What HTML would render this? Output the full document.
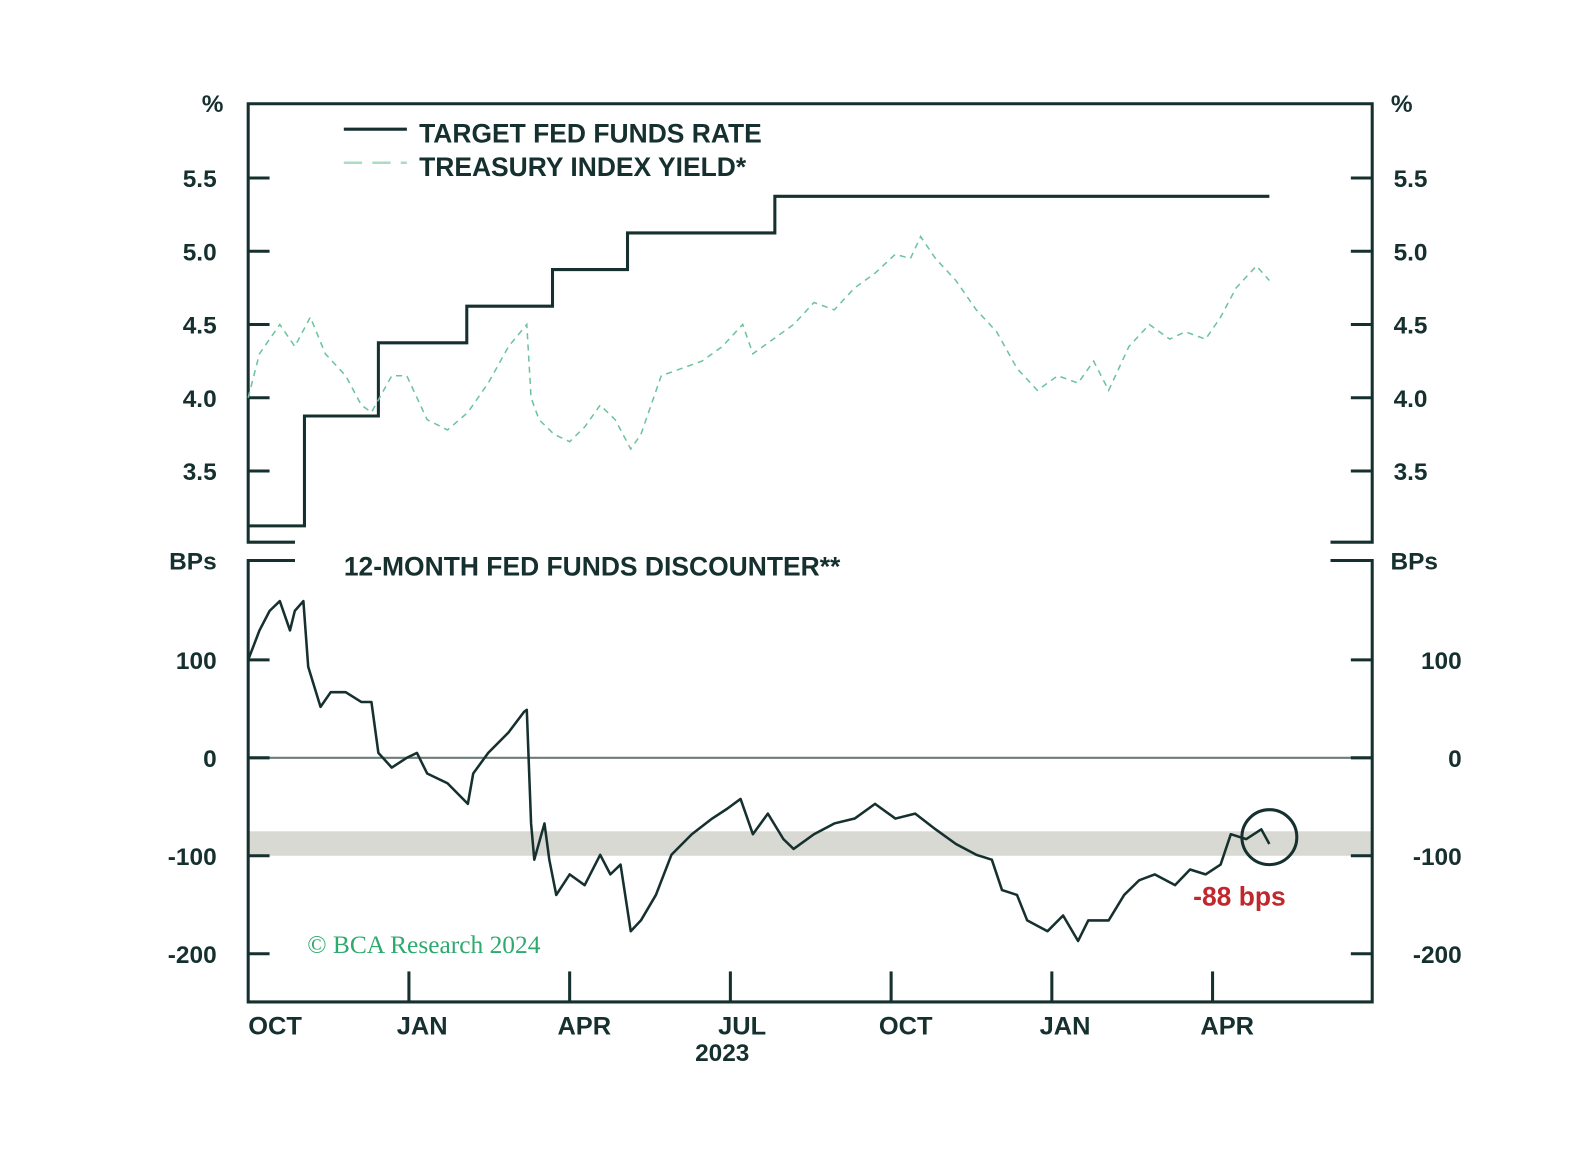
<!DOCTYPE html>
<html><head><meta charset="utf-8"><style>
body{margin:0;background:#fff;}
svg text{font-family:"Liberation Sans",sans-serif;fill:#15302e;font-weight:bold;}
</style></head><body>
<svg width="1596" height="1144" viewBox="0 0 1596 1144" xmlns="http://www.w3.org/2000/svg">
<g id="root" transform="scale(1.0172)"></g>
</svg>
<script>
const fedStepMonths=[0,1.05,2.43,4.08,5.68,7.08,9.83,19.06];
const fedStepRates=[3.125,3.875,4.375,4.625,4.875,5.125,5.375,5.375];
const tsyMonths=[0,.21,.59,.87,1.16,1.44,1.82,2.11,2.3,2.68,2.96,3.34,3.72,4.1,4.48,4.86,5.2,5.28,5.43,5.71,6.0,6.28,6.57,6.85,7.14,7.33,7.71,8.09,8.47,8.85,9.23,9.42,9.8,10.18,10.56,10.94,11.32,11.7,12.08,12.36,12.55,12.83,13.21,13.59,13.97,14.35,14.73,15.11,15.49,15.78,16.06,16.44,16.82,17.2,17.49,17.87,18.15,18.44,18.82,19.06];
const tsyYields=[4.0,4.3,4.5,4.35,4.55,4.3,4.15,3.95,3.9,4.15,4.15,3.85,3.78,3.9,4.1,4.35,4.5,4.0,3.85,3.75,3.7,3.8,3.95,3.85,3.65,3.75,4.15,4.2,4.25,4.35,4.5,4.3,4.4,4.5,4.65,4.6,4.75,4.85,4.98,4.95,5.1,4.95,4.8,4.6,4.45,4.2,4.05,4.15,4.1,4.25,4.05,4.35,4.5,4.4,4.45,4.4,4.55,4.75,4.9,4.8];
const discMonths=[0,.21,.4,.59,.78,.87,1.03,1.12,1.35,1.54,1.82,2.11,2.3,2.43,2.68,2.96,3.15,3.34,3.72,4.1,4.2,4.48,4.86,5.15,5.2,5.28,5.34,5.53,5.62,5.75,6.0,6.28,6.57,6.76,6.95,7.14,7.33,7.61,7.9,8.28,8.66,8.94,9.19,9.42,9.7,9.99,10.18,10.56,10.94,11.32,11.7,12.08,12.45,12.83,13.21,13.59,13.88,14.07,14.35,14.54,14.92,15.21,15.49,15.68,16.06,16.35,16.63,16.92,17.3,17.58,17.87,18.15,18.34,18.63,18.91,19.06];
const discBps=[100,130,150,160,130,150,160,93,52,67,67,57,57,5,-10,0,5,-16,-26,-47,-16,5,26,47,49,-67,-104,-67,-104,-140,-119,-130,-99,-119,-109,-177,-166,-140,-99,-78,-62,-52,-42,-78,-57,-83,-93,-78,-67,-62,-47,-62,-57,-73,-88,-99,-104,-135,-140,-166,-177,-161,-187,-166,-166,-140,-125,-119,-130,-114,-119,-109,-78,-83,-73,-88];
const topTicks=[3.5,4.0,4.5,5.0,5.5];
const topTickLabels=["3.5","4.0","4.5","5.0","5.5"];
const botTicks=[-200,-100,0,100];
const botTickLabels=["-200","-100","0","100"];
const xTickMonths=[3,6,9,12,15,18];
const xLabels=["OCT","JAN","APR","JUL","OCT","JAN","APR"];
const xLabelMonths=[0,3,6,9,12,15,18];

const NS="http://www.w3.org/2000/svg",root=document.getElementById('root');
const xS=m=>244+m*52.67, yT=v=>391-(v-4)*144, yB=v=>745-v*0.963;
function el(tag,a,parent){const e=document.createElementNS(NS,tag);for(const k in a)e.setAttribute(k,a[k]);(parent||root).appendChild(e);return e;}
function txt(x,y,s,size,anchor){const t=el('text',{x:x,y:y,'font-size':size,'text-anchor':anchor||'start'});t.textContent=s;return t;}
const AX='#15302e';
let band=el('rect',{x:244,y:yB(-75),width:1105,height:yB(-100)-yB(-75),fill:'#d9d9d3'});


let z=el('line',{x1:244,x2:1349,y1:yB(0),y2:yB(0),stroke:'#6f7c7a','stroke-width':2});


let fr=el('path',{d:'M290 533 H244 V102 H1349 V533 H1308 M290 551 H244 V985 H1349 V551 H1308',fill:'none',stroke:AX,'stroke-width':3});


topTicks.forEach((v,i)=>{
 el('line',{x1:244,x2:265,y1:yT(v),y2:yT(v),stroke:AX,'stroke-width':3});
 el('line',{x1:1328,x2:1349,y1:yT(v),y2:yT(v),stroke:AX,'stroke-width':3});
 let a=txt(213,yT(v)+9,topTickLabels[i],24,'end');
 
 
 let b=txt(1370,yT(v)+9,topTickLabels[i],24);
 
 
});
botTicks.forEach((v,i)=>{
 el('line',{x1:244,x2:265,y1:yB(v),y2:yB(v),stroke:AX,'stroke-width':3});
 el('line',{x1:1328,x2:1349,y1:yB(v),y2:yB(v),stroke:AX,'stroke-width':3});
 let a=txt(213,yB(v)+9,botTickLabels[i],24,'end');
 
 
 let b=txt(1437,yB(v)+9,botTickLabels[i],24,'end');
 
 
});
xTickMonths.forEach(m=>{el('line',{x1:xS(m),x2:xS(m),y1:955,y2:985,stroke:AX,'stroke-width':3});});
xLabels.forEach((s,i)=>{let t=txt(xS(xLabelMonths[i])+(i==0?0:-12),1017,s,25);
 
 });
let yr=txt(710,1043,'2023',24,'middle');


txt(209,110,'%',24,'middle');txt(1378,110,'%',24,'middle');
txt(213,560,'BPs',24,'end');txt(1367,560,'BPs',24);
let d='M'+xS(fedStepMonths[0])+' '+yT(fedStepRates[0]);
for(let i=1;i<fedStepMonths.length;i++){d+=' H'+xS(fedStepMonths[i])+' V'+yT(fedStepRates[i]);}
let fl=el('path',{d:d,fill:'none',stroke:AX,'stroke-width':3});


let tl=el('polyline',{points:tsyMonths.map((m,i)=>xS(m)+','+yT(tsyYields[i])).join(' '),fill:'none',stroke:'#6cc39c','stroke-width':1.5,'stroke-dasharray':'6 5'});


let dl=el('polyline',{points:discMonths.map((m,i)=>xS(m)+','+yB(discBps[i])).join(' '),fill:'none',stroke:AX,'stroke-width':2.5,'stroke-linejoin':'round'});


let c=el('circle',{cx:xS(discMonths[discMonths.length-1]),cy:823,r:27,fill:'none',stroke:AX,'stroke-width':3});


let r=el('text',{x:1173,y:890,'font-size':26,'style':'fill:#c0282d'});r.textContent='-88 bps';


el('line',{x1:338,x2:400,y1:127,y2:127,stroke:AX,'stroke-width':3});
el('line',{x1:338,x2:400,y1:160,y2:160,stroke:'#a9dcc3','stroke-width':2.5,'stroke-dasharray':'18 10'});
let l1=txt(412,140,'TARGET FED FUNDS RATE',26);


let l2=txt(412,173,'TREASURY INDEX YIELD*',26);


let l3=txt(338,566,'12-MONTH FED FUNDS DISCOUNTER**',26);


let cp=el('text',{x:302,y:937,'font-size':25,'style':'fill:#2eaa6e;font-family:"Liberation Serif",serif;font-weight:normal'});cp.textContent='© BCA Research 2024';


</script>
</body></html>
